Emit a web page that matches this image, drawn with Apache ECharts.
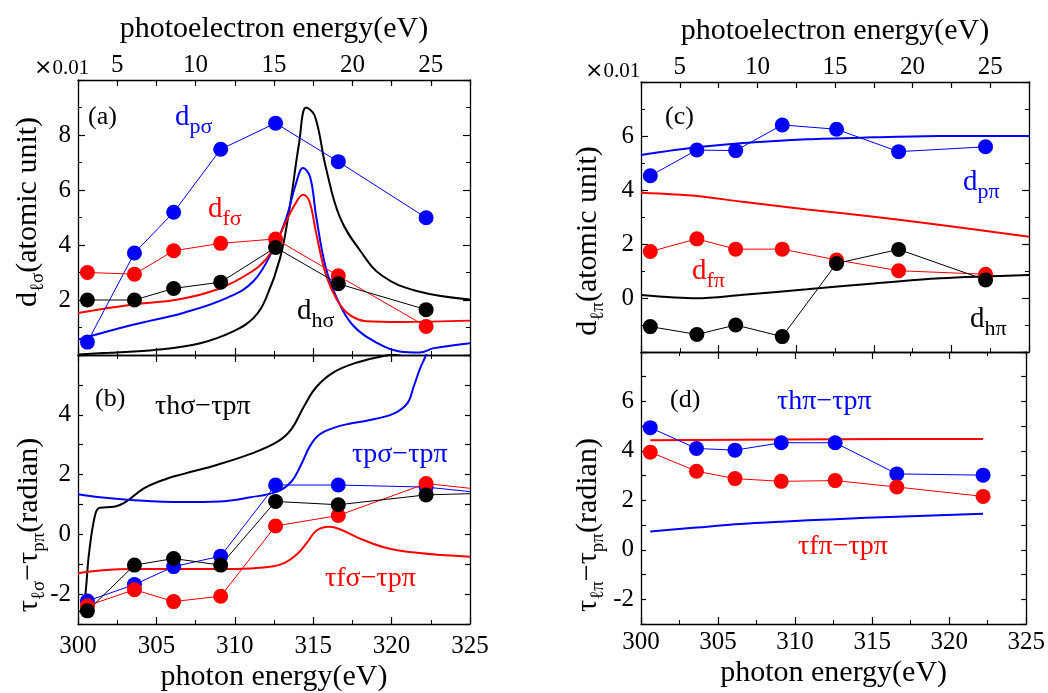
<!DOCTYPE html>
<html>
<head>
<meta charset="utf-8">
<script src="https://cdn.jsdelivr.net/npm/echarts@6/dist/echarts.min.js"></script>
<style>
html, body { margin: 0; padding: 0; background: #fff; }
#chart { width: 1048px; height: 693px; }
</style>
</head>
<body>
<div id="chart"></div>
<script>
var chartDom = document.getElementById('chart');
var myChart = echarts.init(chartDom);
var option;

var FONT = 'Liberation Serif';
var BLUE = '#0000ff', RED = '#ff0000', BLACK = '#000000';

// photon energies of the measured points
var photon = [300.6, 303.6, 306.1, 309.1, 312.6, 316.6, 322.2];

// (a) d_l sigma
var aBlueDots = [0.47, 3.71, 5.19, 7.48, 8.43, 7.03, 4.99];
var aRedDots = [3.0, 2.94, 3.79, 4.06, 4.22, 2.88, 1.04];
var aBlackDots = [2.0, 2.0, 2.42, 2.65, 3.91, 2.59, 1.65];
var aBlackCurve = [[300, 0.02], [302, 0.08], [305, 0.19], [307.8, 0.43], [309.9, 0.86], [311.2, 1.35], [312, 2.08],
  [312.9, 3.55], [313.5, 5.38], [314.1, 7.7], [314.55, 9.0], [315.1, 8.7], [315.8, 6.84], [316.7, 5.01],
  [318, 3.79], [319.4, 2.88], [321.6, 2.33], [325, 2.02]];
var aBlueCurve = [[300, 0.56], [303.5, 1.1], [306.7, 1.53], [309.5, 2.08], [311.2, 2.69], [312.5, 3.91], [313.3, 5.01],
  [313.9, 6.23], [314.35, 6.8], [314.8, 6.48], [315.2, 5.0], [315.8, 3.18], [316.5, 2.08], [317.5, 1.1],
  [319.1, 0.43], [320.5, 0.13], [321.8, 0.09], [322.7, 0.25], [325, 0.43]];
var aRedCurve = [[300, 1.53], [303.5, 1.84], [306.4, 2.02], [308.9, 2.39], [311, 3.0], [312, 3.49], [312.7, 4.16],
  [313.3, 4.89], [313.8, 5.44], [314.35, 5.83], [314.75, 5.6], [315.2, 4.4], [315.8, 2.94], [316.5, 2.02],
  [317.3, 1.47], [318.4, 1.23], [320.5, 1.2], [325, 1.25]];

// (b) tau_l sigma - tau_p pi
var bBlueDots = [-2.23, -1.68, -1.08, -0.73, 1.65, 1.65, 1.58];
var bRedDots = [-2.39, -1.85, -2.25, -2.07, 0.28, 0.63, 1.7];
var bBlackDots = [-2.56, -1.03, -0.81, -1.03, 1.1, 0.99, 1.32];
var bTail = [1.43, 1.54, 1.36];   // segments leaving the frame at 325 eV (blue, red, black)
var bBlackCurve = [[300.1, -2.61], [300.4, -2.28], [300.7, -0.65], [301.1, 0.67], [301.4, 0.89], [302.3, 0.92],
  [303.1, 1.1], [304.2, 1.54], [305.7, 1.87], [306.8, 2.03], [308.9, 2.33], [311, 2.69], [312.7, 3.09],
  [313.6, 3.51], [314.4, 4.27], [315.2, 4.93], [316.3, 5.42], [317.8, 5.75], [319.5, 5.97], [322, 6.15], [325, 6.3]];
var bBlueCurve = [[300, 1.34], [301.4, 1.24], [303.6, 1.14], [306.7, 1.08], [309, 1.1], [311, 1.24], [312.7, 1.43],
  [313.6, 1.76], [314.2, 2.3], [314.8, 2.96], [315.4, 3.34], [316.3, 3.56], [317.3, 3.7], [318.4, 3.8],
  [320.1, 4.03], [321, 4.38], [321.4, 4.93], [321.8, 5.53], [322.2, 6.02], [322.8, 7.2]];
var bRedCurve = [[300, -1.3], [301.4, -1.21], [303.6, -1.16], [306.7, -1.16], [310, -1.16], [312, -1.1],
  [313.1, -0.97], [314, -0.65], [314.7, -0.21], [315.2, 0.12], [316, 0.25], [316.7, 0.17], [317.8, -0.1],
  [319.5, -0.43], [321.6, -0.62], [325, -0.75]];

// (c) d_l pi
var cBlueDots = [4.53, 5.48, 5.46, 6.41, 6.25, 5.42, 5.6];
var cRedDots = [1.72, 2.19, 1.81, 1.81, 1.41, 1.01, 0.88];
var cBlackDots = [-1.06, -1.35, -1.0, -1.43, 1.28, 1.8, 0.67];
var cBlueCurve = [[300, 5.3], [303.6, 5.58], [306.4, 5.73], [310.7, 5.88], [315, 5.95], [319.3, 6.0], [325, 6.0]];
var cRedCurve = [[300, 3.9], [303.6, 3.78], [306.4, 3.57], [310.7, 3.28], [315, 3.01], [319.3, 2.7], [325, 2.27]];
var cBlackCurve = [[300, 0.11], [303.6, -0.01], [306.4, 0.11], [310.7, 0.32], [315, 0.54], [319.3, 0.73], [325, 0.85]];

// (d) tau_l pi - tau_p pi
var dBlueDots = [4.94, 4.1, 4.03, 4.33, 4.33, 3.07, 3.02];
var dRedDots = [3.95, 3.18, 2.88, 2.77, 2.8, 2.54, 2.16];
var dRedCurve = [4.43, 4.44, 4.45, 4.46, 4.47, 4.48, 4.48];
var dBlueCurve = [0.74, 0.9, 1.03, 1.14, 1.24, 1.34, 1.46];

// axis ranges
var photonRange = [300, 325];
var electronRange = [2.5, 27.5];
var yRanges = [[0, 10, 2], [-3, 6, 1], [-2, 8, 2], [-3, 8, 1]];

var grids = [
  {left: 78, top: 80, width: 392, height: 275},
  {left: 78, top: 355, width: 392, height: 273},
  {left: 641, top: 82, width: 388, height: 270},
  {left: 641, top: 352, width: 388, height: 272}
];

function base() {
  return {
    axisLine: {onZero: false, lineStyle: {color: '#000', width: 1.3}},
    axisTick: {inside: true, length: 7, lineStyle: {color: '#000', width: 1.2}},
    splitLine: {show: false},
    axisLabel: {color: '#000', fontFamily: FONT, fontSize: 25}
  };
}

var xAxes = [], yAxes = [];
for (var g = 0; g < 4; g++) {
  var bottomLabels = (g === 1 || g === 3);
  var bx = base();
  bx.type = 'value'; bx.gridIndex = g; bx.position = 'bottom';
  bx.min = photonRange[0]; bx.max = photonRange[1]; bx.interval = 5;
  bx.minorTick = {show: true, splitNumber: 2, length: 4, lineStyle: {color: '#000', width: 1}};
  bx.axisLabel.show = bottomLabels;
  bx.axisLabel.margin = (g === 1) ? 10 : 6;
  if (bottomLabels) {
    bx.name = 'photon energy(eV)';
    bx.nameLocation = 'middle';
    bx.nameGap = (g === 1) ? 38 : 34;
    bx.nameTextStyle = {color: '#000', fontFamily: FONT, fontSize: 30};
  }
  xAxes.push(bx);

  var tx = base();
  tx.type = 'value'; tx.gridIndex = g; tx.position = 'top';
  if (bottomLabels) {
    tx.min = photonRange[0]; tx.max = photonRange[1]; tx.interval = 5;
    tx.minorTick = {show: true, splitNumber: 2, length: 4, lineStyle: {color: '#000', width: 1}};
    tx.axisLabel.show = false;
  } else {
    tx.min = electronRange[0]; tx.max = electronRange[1]; tx.interval = 2.5;
    tx.axisTick.length = 6;
    tx.axisLabel.margin = 2;
    tx.axisLabel.formatter = function (v) { return v % 5 === 0 ? String(v) : ''; };
    tx.name = 'photoelectron energy(eV)';
    tx.nameLocation = 'middle';
    tx.nameGap = 36;
    tx.nameTextStyle = {color: '#000', fontFamily: FONT, fontSize: 30};
  }
  xAxes.push(tx);

  var r = yRanges[g];
  var ly = base();
  ly.type = 'value'; ly.gridIndex = g; ly.position = 'left';
  ly.min = r[0]; ly.max = r[1]; ly.interval = r[2];
  if (r[2] === 2) {
    ly.minorTick = {show: true, splitNumber: 2, length: 4, lineStyle: {color: '#000', width: 1}};
  } else {
    ly.axisTick.length = 5;
  }
  ly.axisLabel.margin = 7;
  (function (lo, hi) {
    ly.axisLabel.formatter = function (v) {
      return (v % 2 === 0 && v !== lo && v !== hi) ? String(v) : '';
    };
  })(r[0], r[1]);
  yAxes.push(ly);

  var ry = base();
  ry.type = 'value'; ry.gridIndex = g; ry.position = 'right';
  ry.min = r[0]; ry.max = r[1]; ry.interval = r[2];
  if (r[2] === 2) {
    ry.minorTick = {show: true, splitNumber: 2, length: 4, lineStyle: {color: '#000', width: 1}};
  } else {
    ry.axisTick.length = 5;
  }
  ry.axisLabel.show = false;
  yAxes.push(ry);
}

function curve(g, pts, color, smooth) {
  return {
    type: 'line', xAxisIndex: 2 * g, yAxisIndex: 2 * g, data: pts,
    showSymbol: false, smooth: smooth, clip: true,
    lineStyle: {color: color, width: 2}, z: 2
  };
}

function dots(g, vals, color, tail) {
  var data = photon.map(function (x, i) { return [x, vals[i]]; });
  if (tail !== undefined) data.push({value: [325, tail], symbol: 'none'});
  return {
    type: 'line', xAxisIndex: 2 * g, yAxisIndex: 2 * g, data: data,
    symbol: 'circle', symbolSize: 15, clip: true,
    lineStyle: {color: color, width: 1}, itemStyle: {color: color}, z: 3
  };
}

var series = [
  dots(0, aBlueDots, BLUE), dots(0, aRedDots, RED), dots(0, aBlackDots, BLACK),
  curve(0, aBlackCurve, BLACK, 0.4), curve(0, aBlueCurve, BLUE, 0.4), curve(0, aRedCurve, RED, 0.4),

  curve(1, bBlackCurve, BLACK, 0.4), curve(1, bBlueCurve, BLUE, 0.4), curve(1, bRedCurve, RED, 0.4),
  dots(1, bBlueDots, BLUE, bTail[0]), dots(1, bRedDots, RED, bTail[1]), dots(1, bBlackDots, BLACK, bTail[2]),

  curve(2, cBlueCurve, BLUE, 0.3), curve(2, cRedCurve, RED, 0.3), curve(2, cBlackCurve, BLACK, 0.3),
  dots(2, cBlueDots, BLUE), dots(2, cRedDots, RED), dots(2, cBlackDots, BLACK),

  curve(3, photon.map(function (x, i) { return [x, dRedCurve[i]]; }), RED, false),
  curve(3, photon.map(function (x, i) { return [x, dBlueCurve[i]]; }), BLUE, 0.4),
  dots(3, dBlueDots, BLUE), dots(3, dRedDots, RED)
];

// text helpers
function richLabel(x, y, main, sub, color) {
  return {
    type: 'text', x: x, y: y, z: 10,
    style: {
      text: '{m|' + main + '}{s|' + sub + '}', align: 'left', verticalAlign: 'top',
      rich: {
        m: {fill: color, fontFamily: FONT, fontSize: 29, lineHeight: 42, verticalAlign: 'middle'},
        s: {fill: color, fontFamily: FONT, fontSize: 22, lineHeight: 22, verticalAlign: 'bottom'}
      }
    }
  };
}

function plainLabel(x, y, text, color, size) {
  return {
    type: 'text', x: x, y: y, z: 10,
    style: {text: text, fill: color, fontFamily: FONT, fontSize: size, align: 'left', verticalAlign: 'top'}
  };
}

function yTitle(x, y, text) {
  return {
    type: 'text', x: x, y: y, rotation: Math.PI / 2, z: 10,
    style: {
      text: text, align: 'center', verticalAlign: 'middle',
      rich: {
        m: {fill: '#000', fontFamily: FONT, fontSize: 30, lineHeight: 40, verticalAlign: 'middle'},
        s: {fill: '#000', fontFamily: FONT, fontSize: 19, lineHeight: 19, verticalAlign: 'bottom'}
      }
    }
  };
}

function scaleNote(x, y) {
  return {
    type: 'text', x: x, y: y, z: 10,
    style: {
      text: '{a|×}{b|0.01}', align: 'left', verticalAlign: 'middle',
      rich: {
        a: {fill: '#000', fontFamily: 'DejaVu Sans', fontSize: 22, verticalAlign: 'middle'},
        b: {fill: '#000', fontFamily: FONT, fontSize: 21, verticalAlign: 'middle'}
      }
    }
  };
}

var graphics = [
  plainLabel(88, 104, '(a)', BLACK, 26),
  richLabel(175, 96, 'd', 'pσ', BLUE),
  richLabel(208, 188, 'd', 'fσ', RED),
  richLabel(297, 290, 'd', 'hσ', BLACK),

  plainLabel(95, 386, '(b)', BLACK, 26),
  plainLabel(155, 393, 'τhσ−τpπ', BLACK, 28),
  plainLabel(352, 441, 'τpσ−τpπ', BLUE, 28),
  plainLabel(325, 565, 'τfσ−τpπ', RED, 28),

  plainLabel(665, 104, '(c)', BLACK, 26),
  richLabel(963, 161, 'd', 'pπ', BLUE),
  richLabel(692, 250, 'd', 'fπ', RED),
  richLabel(970, 298, 'd', 'hπ', BLACK),

  plainLabel(670, 387, '(d)', BLACK, 26),
  plainLabel(777, 388, 'τhπ−τpπ', BLUE, 28),
  plainLabel(798, 533, 'τfπ−τpπ', RED, 28),

  yTitle(28, 212, '{m|d}{s|ℓσ}{m|(atomic unit)}'),
  yTitle(29, 525, '{m|τ}{s|ℓσ}{m|−τ}{s|pπ}{m|(radian)}'),
  yTitle(588, 241, '{m|d}{s|ℓπ}{m|(atomic unit)}'),
  yTitle(588, 525, '{m|τ}{s|ℓπ}{m|−τ}{s|pπ}{m|(radian)}'),

  scaleNote(34, 68),
  scaleNote(585, 71)
];

option = {
  animation: false,
  backgroundColor: '#ffffff',
  grid: grids,
  xAxis: xAxes,
  yAxis: yAxes,
  series: series,
  graphic: graphics
};

option && myChart.setOption(option);
</script>
</body>
</html>
